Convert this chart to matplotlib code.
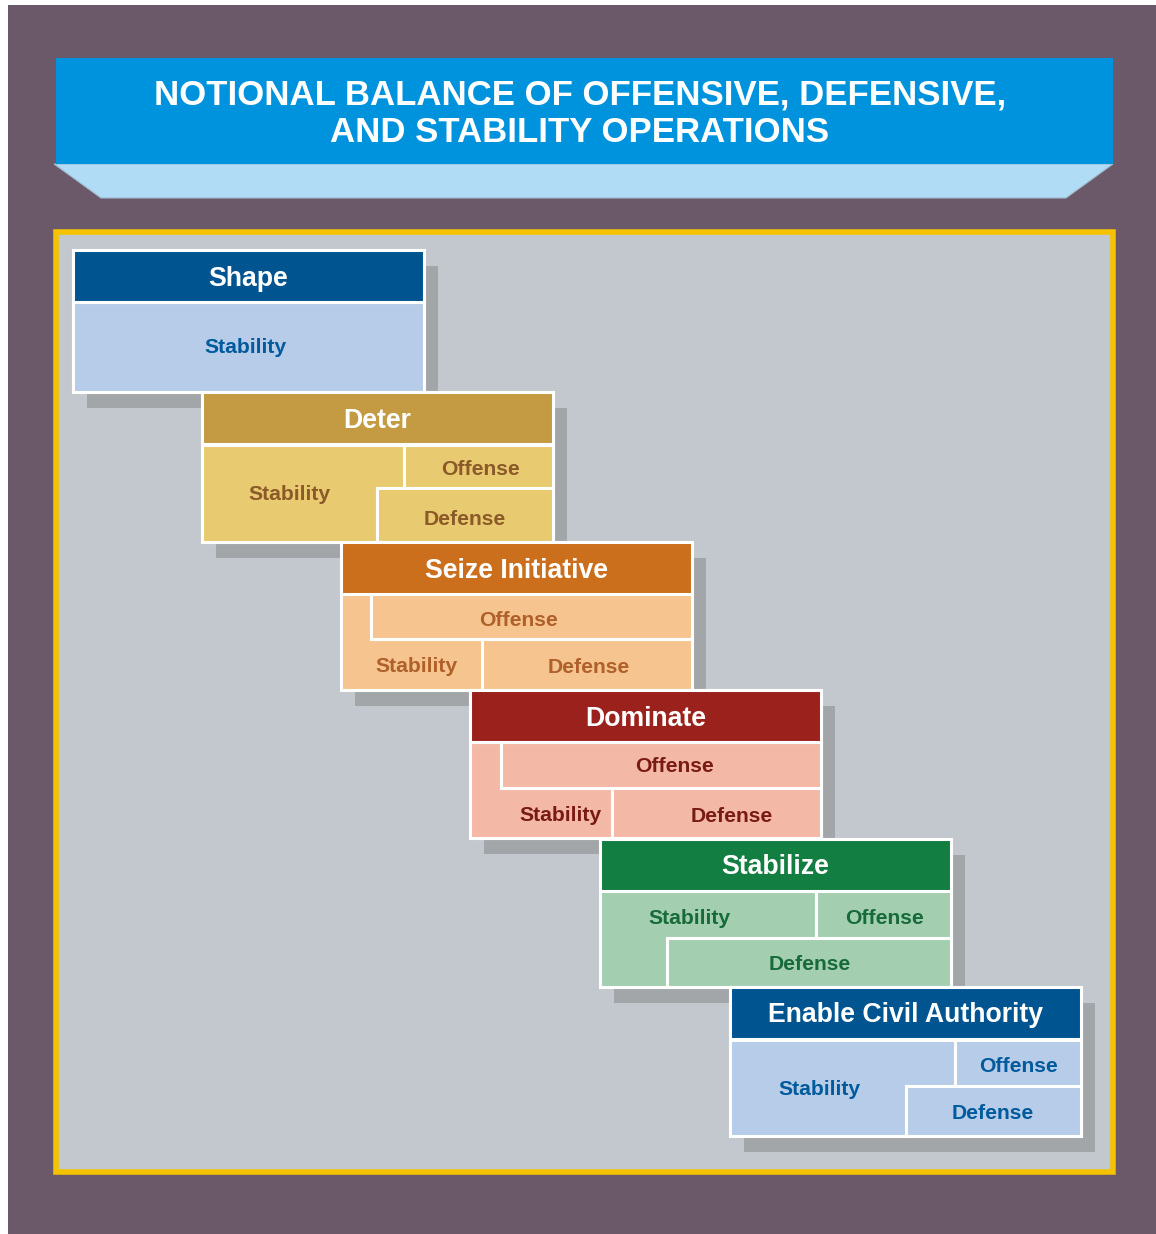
import matplotlib.pyplot as plt
from matplotlib.patches import Rectangle, Polygon

plt.rcParams['font.family'] = ['Liberation Sans', 'DejaVu Sans']

title_lines = ["NOTIONAL BALANCE OF OFFENSIVE, DEFENSIVE,", "AND STABILITY OPERATIONS"]
stages = ["Shape", "Deter", "Seize Initiative", "Dominate", "Stabilize", "Enable Civil Authority"]
head_colors = ["#005591", "#c49b43", "#cc6f1d", "#9b211c", "#137e41", "#005591"]
body_colors = ["#b7cce8", "#e8ca70", "#f5c48f", "#f4b8a6", "#a3cfb0", "#b7cce8"]
text_colors = ["#005a9c", "#8b5a28", "#b0602a", "#7a1a14", "#176b3a", "#005a9c"]
cell_labels = ["Stability", "Offense", "Defense"]

# box top-left corners
box_x = [73, 202, 341, 470, 600, 730]
box_y = [250, 392, 542, 690, 839, 987]
box_h = [142, 150, 148, 148, 148, 149]
box_w = 351
head_h = 52
dy = 2.5  # small nudge so text sits like the original

# sub-cell shapes for each stage, relative to the box corner
# each entry: (label, polygon points, label position)
layouts = [
    [("Stability", [(0, 52), (351, 52), (351, 142), (0, 142)], (172, 95))],
    [("Stability", [(0, 53), (202, 53), (202, 96), (175, 96), (175, 150), (0, 150)], (87, 100)),
     ("Offense", [(202, 53), (351, 53), (351, 96), (202, 96)], (278, 75)),
     ("Defense", [(175, 96), (351, 96), (351, 150), (175, 150)], (263, 125))],
    [("Stability", [(0, 52), (30, 52), (30, 97), (141, 97), (141, 148), (0, 148)], (75, 122)),
     ("Offense", [(30, 52), (351, 52), (351, 97), (30, 97)], (177, 76)),
     ("Defense", [(141, 97), (351, 97), (351, 148), (141, 148)], (248, 123))],
    [("Stability", [(0, 52), (31, 52), (31, 98), (142, 98), (142, 148), (0, 148)], (90, 123)),
     ("Offense", [(31, 52), (351, 52), (351, 98), (31, 98)], (205, 74)),
     ("Defense", [(142, 98), (351, 98), (351, 148), (142, 148)], (262, 124))],
    [("Stability", [(0, 52), (216, 52), (216, 99), (67, 99), (67, 148), (0, 148)], (89, 77)),
     ("Offense", [(216, 52), (351, 52), (351, 99), (216, 99)], (285, 77)),
     ("Defense", [(67, 99), (351, 99), (351, 148), (67, 148)], (210, 123))],
    [("Stability", [(0, 53), (225, 53), (225, 99), (176, 99), (176, 149), (0, 149)], (89, 100)),
     ("Offense", [(225, 53), (351, 53), (351, 99), (225, 99)], (288, 77)),
     ("Defense", [(176, 99), (351, 99), (351, 149), (176, 149)], (263, 124))],
]

fig = plt.figure(figsize=(11.56, 12.34), dpi=100)
ax = fig.add_axes([0, 0, 1, 1])
ax.set_xlim(0, 1156)
ax.set_ylim(1234, 0)
ax.axis('off')
fig.patch.set_facecolor('white')

# purple background
ax.add_patch(Rectangle((8, 5), 1148, 1229, facecolor="#6b5869", edgecolor='none'))

# title banner
ax.add_patch(Polygon([(54, 164), (1113, 164), (1066, 198), (101, 198)],
                     facecolor="#b0ddf5", edgecolor="#9fb8cc", linewidth=0.8))
ax.add_patch(Rectangle((56, 58), 1057, 106, facecolor="#0093dd", edgecolor='none'))
ax.text(580, 92 + dy, title_lines[0], ha='center', va='center', color='white',
        fontsize=25, fontweight='bold')
ax.text(580, 130 + dy, title_lines[1], ha='center', va='center', color='white',
        fontsize=25, fontweight='bold')

# yellow frame and grey panel
ax.add_patch(Rectangle((55.5, 231.5), 1057, 940, facecolor="#c3c7ce",
                       edgecolor="#f5c200", linewidth=4))

# shadows
for i in range(len(stages)):
    ax.add_patch(Rectangle((box_x[i] + 14, box_y[i] + 16), box_w, box_h[i],
                           facecolor="#a3a6a9", edgecolor='none'))

for i, name in enumerate(stages):
    bx, by = box_x[i], box_y[i]
    ax.add_patch(Rectangle((bx, by), box_w, box_h[i], facecolor=body_colors[i],
                           edgecolor='white', linewidth=2.2))
    for lab, pts, (lx, ly) in layouts[i]:
        ax.add_patch(Polygon([(bx + px, by + py) for px, py in pts],
                             facecolor=body_colors[i], edgecolor='white', linewidth=2.2))
        ax.text(bx + lx, by + ly + dy, lab, ha='center', va='center', color=text_colors[i],
                fontsize=15.2, fontweight='bold')
    ax.add_patch(Rectangle((bx, by), box_w, head_h, facecolor=head_colors[i],
                           edgecolor='white', linewidth=2.2))
    ax.text(bx + box_w / 2, by + head_h / 2 + dy, name, ha='center', va='center',
            color='white', fontsize=19.2, fontweight='bold')

fig.savefig("out.png", dpi=100)
